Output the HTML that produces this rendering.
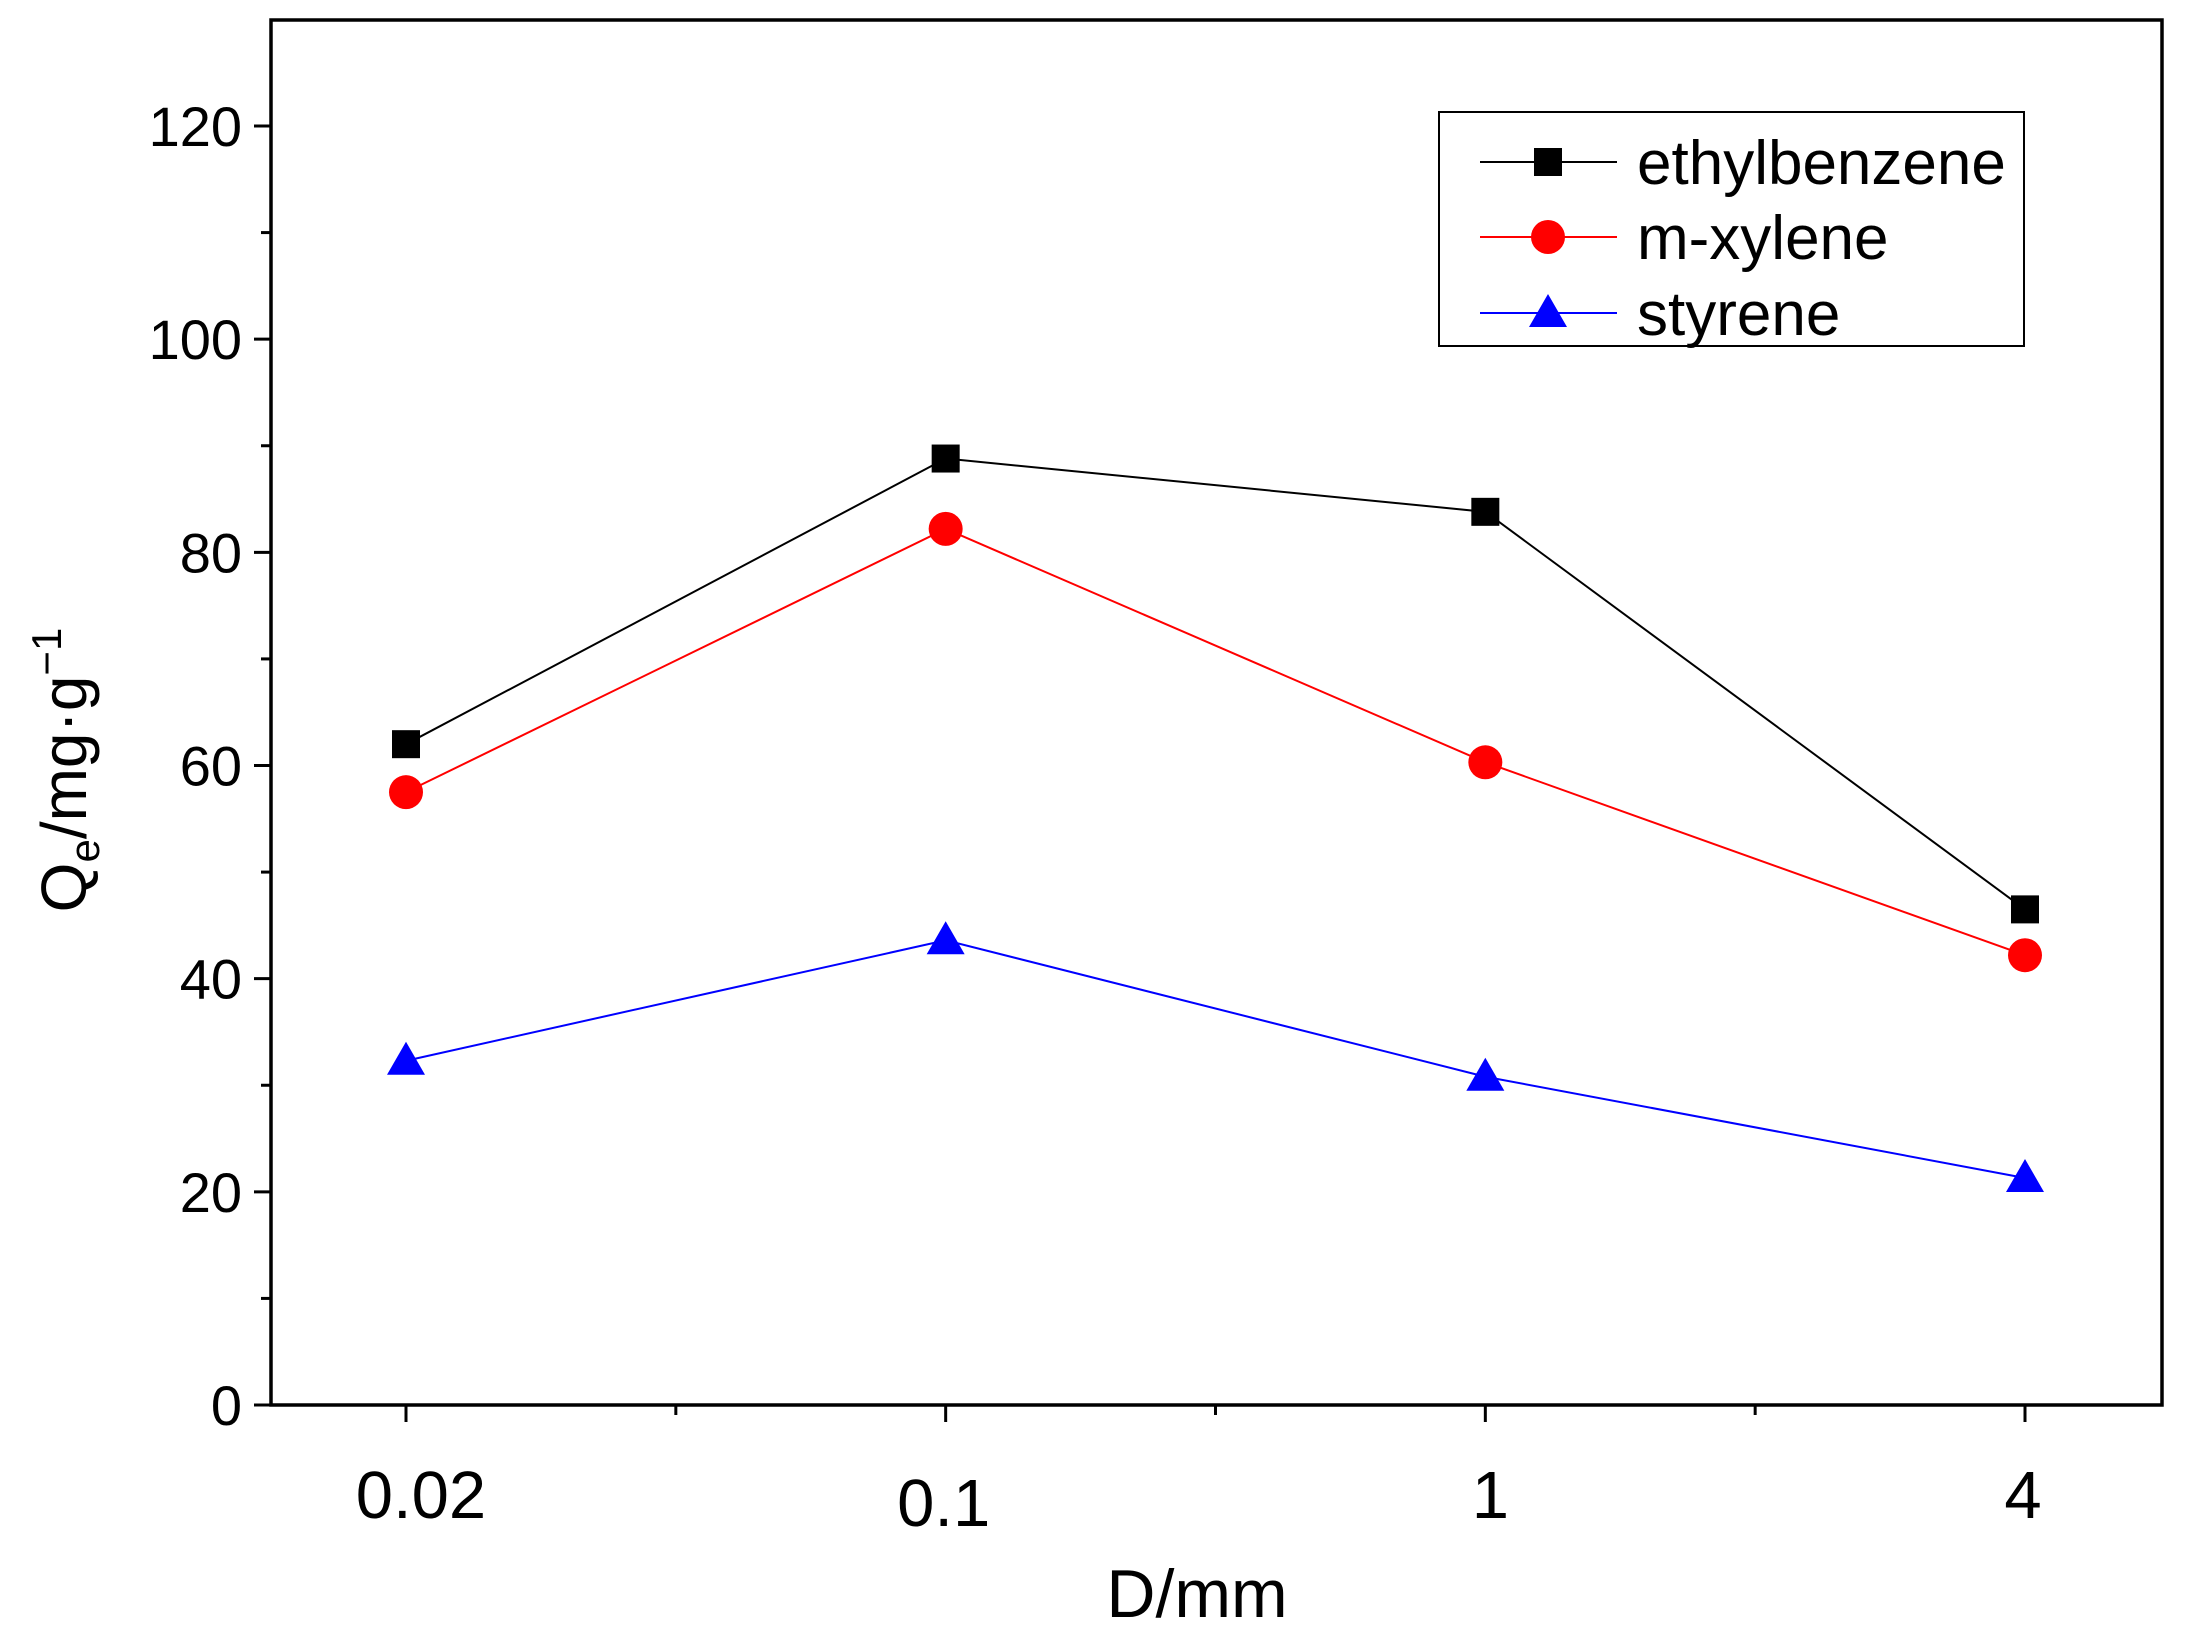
<!DOCTYPE html>
<html><head><meta charset="utf-8"><style>
html,body{margin:0;padding:0;background:#fff;}
svg{display:block;font-family:"Liberation Sans",Arial,sans-serif;}
</style></head><body>
<svg id="chart" width="2190" height="1638" viewBox="0 0 2190 1638" xmlns="http://www.w3.org/2000/svg">
<rect x="0" y="0" width="2190" height="1638" fill="#fff"/>
<g id="plot"></g>
</svg>
<script>
const categories = ["0.02","0.1","1","4"];
const ethylbenzene = [62.0, 88.8, 83.8, 46.5];
const mxylene = [57.5, 82.2, 60.3, 42.2];
const styrene = [32.3, 43.6, 30.8, 21.3];
const yTicks = [0,20,40,60,80,100,120];
const legendLabels = ["ethylbenzene","m-xylene","styrene"];

const NS="http://www.w3.org/2000/svg";
const L=271,R=2162,T=20,B=1405;
const Y0=1405, YPER=(1405-126)/120;
function yScale(v){return Y0 - v*YPER;}
function xScale(i){return 406 + i*(2025-406)/(categories.length-1);}
const g=document.getElementById('plot');
function el(tag,attrs,parent){const e=document.createElementNS(NS,tag);for(const k in attrs)e.setAttribute(k,attrs[k]);(parent||g).appendChild(e);return e;}

const frame=el('rect',{x:L,y:T,width:R-L,height:B-T,fill:'none',stroke:'#000','stroke-width':3.5});



for(let v=0;v<=120;v+=10){
  const y=yScale(v);const major=v%20===0;
  const t=el('line',{x1:L,x2:L-(major?17:10),y1:y,y2:y,stroke:'#000','stroke-width':3});
  
  
}
yTicks.forEach(v=>{
  const t=el('text',{x:242,y:yScale(v)+20,'text-anchor':'end','font-size':56,fill:'#000'});
  t.textContent=v;
  
  
});
categories.forEach((c,i)=>{
  const x=xScale(i);
  const t=el('line',{x1:x,x2:x,y1:B,y2:B+17,stroke:'#000','stroke-width':3});
  
  
  if(i<categories.length-1){
    const xm=(x+xScale(i+1))/2;
    const m=el('line',{x1:xm,x2:xm,y1:B,y2:B+10,stroke:'#000','stroke-width':3});
    
    
  }
  const lab=el('text',{x:x+(i===0?15:(i===2?5:-2)),y:(i===1?1526:1518),'text-anchor':'middle','font-size':67,fill:'#000'});
  lab.textContent=c;
  
  
});

const xt=el('text',{x:1197,y:1617,'text-anchor':'middle','font-size':68,fill:'#000'});
xt.textContent='D/mm';


const yt=el('text',{transform:'translate(86,770) rotate(-90)','text-anchor':'middle','font-size':64,fill:'#000'});
yt.innerHTML='Q<tspan font-size="42" dy="13">e</tspan><tspan dy="-13">/mg·g</tspan><tspan font-size="42" dy="-25">−1</tspan>';



function marker(type,x,y,color,parent){
  let m;
  if(type==='square') m=el('rect',{x:x-14,y:y-14,width:28,height:28,fill:color},parent);
  else if(type==='circle') m=el('circle',{cx:x,cy:y,r:17,fill:color},parent);
  else m=el('polygon',{points:`${x},${y-19} ${x+19},${y+14} ${x-19},${y+14}`,fill:color},parent);
  return m;
}
const series=[[ethylbenzene,'#000','square','ethylbenzene'],[mxylene,'#f00','circle','m-xylene'],[styrene,'#00f','triangle','styrene']];
series.forEach(([data,color,type,name])=>{
  const pts=data.map((v,i)=>xScale(i)+','+yScale(v)).join(' ');
  const line=el('polyline',{points:pts,fill:'none',stroke:color,'stroke-width':2});
  
  
  data.forEach((v,i)=>{
    const m=marker(type,xScale(i),yScale(v),color);
    
    
  });
});

const lg=el('g',{});


el('rect',{x:1439,y:112,width:585,height:234,fill:'#fff',stroke:'#000','stroke-width':2},lg);
const ly=[162,237,313];
series.forEach(([data,color,type,name],k)=>{
  const e=el('g',{},lg);
  
  
  el('line',{x1:1480,x2:1617,y1:ly[k],y2:ly[k],stroke:color,'stroke-width':2},e);
  marker(type,1548,ly[k],color,e);
  const t=el('text',{x:1637,y:ly[k]+22,'font-size':62,fill:'#000'},e);
  t.textContent=legendLabels[k];
});
</script>
</body></html>
